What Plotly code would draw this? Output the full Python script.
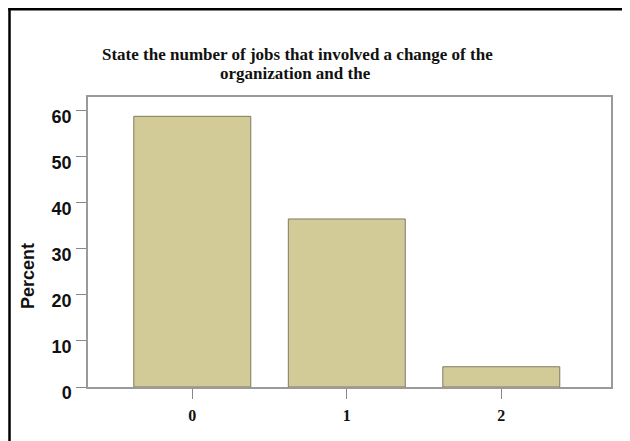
import plotly.graph_objects as go

categories = ["0", "1", "2"]
percent = [58.8, 36.5, 4.4]
y_ticks = [0, 10, 20, 30, 40, 50, 60]

W, H = 630, 441
OFF = 8  # page body margin offset of the rendered figure
# reference plot-area edges (page pixels)
PL, PR, PT, PB = 88, 611, 97, 387
L, R, T, B = PL - OFF, W - (PR - OFF), PT - OFF, H - (PB - OFF)
pw, ph = W - L - R, H - T - B

def px_x(p):
    return (p - OFF - L) / pw

def px_y(p):
    return (H - B - (p - OFF)) / ph

fig = go.Figure()
fig.add_trace(go.Bar(
    x=[0, 1, 2], y=percent, width=0.757,
    marker=dict(color="#D3CB97", line=dict(color="#7D7B62", width=1)),
))

title_font = dict(family="Liberation Serif", size=17, color="#111", weight="bold")

fig.update_layout(
    width=W, height=H,
    margin=dict(l=L, r=R, t=T, b=B),
    paper_bgcolor="white", plot_bgcolor="white",
    showlegend=False,
    annotations=[
        dict(text="State the number of jobs that involved a change of the",
             xref="paper", yref="paper", x=px_x(297), y=px_y(55),
             xanchor="center", yanchor="middle", showarrow=False, font=title_font),
        dict(text="organization and the",
             xref="paper", yref="paper", x=px_x(295), y=px_y(73),
             xanchor="center", yanchor="middle", showarrow=False, font=title_font),
        dict(text="Percent", textangle=-90,
             xref="paper", yref="paper", x=px_x(28), y=px_y(276),
             xanchor="center", yanchor="middle", showarrow=False,
             font=dict(family="Liberation Sans", size=18, color="#111", weight="bold")),
    ],
    xaxis=dict(
        tickmode="array", tickvals=[0, 1, 2], ticktext=categories,
        range=[-0.675, 2.71],
        showline=True, linecolor="#9A9A9A", linewidth=1.5, mirror=True,
        ticks="outside", ticklen=10, tickcolor="#888888", tickwidth=1,
        tickfont=dict(family="Liberation Serif", size=16, color="#111", weight="bold"),
        ticklabelstandoff=3,
        showgrid=False, zeroline=False,
    ),
    yaxis=dict(
        range=[0, 63.0],
        tickmode="array", tickvals=y_ticks,
        showline=True, linecolor="#9A9A9A", linewidth=1.5, mirror=True,
        ticks="outside", ticklen=10, tickcolor="#888888", tickwidth=1,
        tickfont=dict(family="Liberation Sans", size=18, color="#111", weight="bold"),
        ticklabelshift=6, ticklabelstandoff=1,
        showgrid=False, zeroline=False,
    ),
    shapes=[
        dict(type="line", xref="paper", yref="paper",
             x0=px_x(9.5), x1=px_x(9.5), y0=px_y(470), y1=px_y(8),
             line=dict(color="black", width=2.5)),
        dict(type="line", xref="paper", yref="paper",
             x0=px_x(8.3), x1=px_x(680), y0=px_y(9.2), y1=px_y(9.2),
             line=dict(color="black", width=2.5)),
    ],
)

fig.write_html("out.html")
